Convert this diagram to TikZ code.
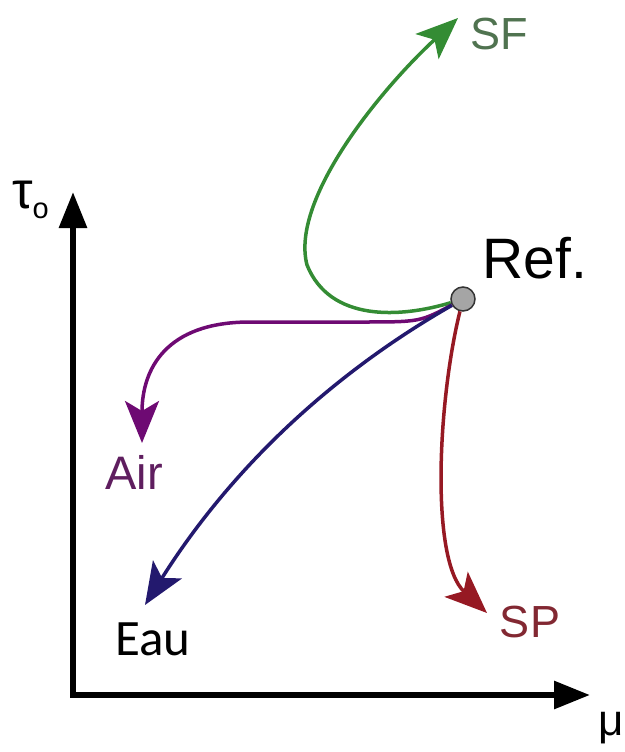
\documentclass[tikz,border=0pt]{standalone}
\usepackage{fontspec}
\setmainfont{Liberation Sans}
\newfontfamily\eaufont{Carlito}
\usetikzlibrary{arrows.meta}
\definecolor{sfGreen}{RGB}{52,140,52}
\definecolor{sfText}{RGB}{80,115,80}
\definecolor{airPurple}{RGB}{110,10,115}
\definecolor{airText}{RGB}{95,30,95}
\definecolor{eauBlue}{RGB}{35,25,110}
\definecolor{spRed}{RGB}{150,25,35}
\definecolor{spText}{RGB}{130,40,50}
\definecolor{refGray}{RGB}{165,165,165}
\newcommand{\fsz}[1]{\fontsize{#1}{#1}\selectfont}

\begin{document}
\begin{tikzpicture}[x=1pt, y=-1pt,
  lbl/.style={inner sep=0pt},
  axis/.style={line width=6pt, line join=miter,
               arrows={Triangle[length=36pt,width=27pt]-Triangle[length=36pt,width=27pt]}},
  trend/.style={line width=3.5pt, -{Stealth[length=42pt,width=34pt,inset=10pt]}},
]
\useasboundingbox (0,0) rectangle (624,752);

% axes
\coordinate (origin) at (73,695);
\coordinate (ytip) at (73,192);
\coordinate (xtip) at (590,695);
\draw[axis] (ytip) -- (origin) -- (xtip);
\node[lbl, anchor=base west, font=\fsz{52}] (tau) at (12,208)
  {τ\raisebox{-10pt}{\fsz{29}o}};
\node[lbl, anchor=base west, font=\fsz{44}] (mu) at (598,735) {μ};

% reference point
\node[circle, fill=refGray, draw=gray!40!black, line width=1.5pt,
      minimum size=24pt, inner sep=0pt] (ref) at (463,299) {};
\node[lbl, font=\fsz{57}] (reflbl) at (535,258) {Ref.};

\coordinate (sftip) at (458,18);
\coordinate (airtip) at (142,443);
\coordinate (eautip) at (145,605);
\coordinate (sptip) at (487,613);

\draw[trend, sfGreen] (ref) .. controls (400,318) and (330,322) .. (307,265)
  .. controls (290,200) and (380,90) .. (sftip);
\draw[trend, airPurple] (ref) .. controls (420,322) .. (360,322) -- (250,322)
  .. controls (165,322) and (142,370) .. (airtip);
\draw[trend, eauBlue] (ref) .. controls (330,375) and (230,470) .. (eautip);
\draw[trend, spRed] (ref) .. controls (438,400) and (430,560) .. (sptip);

\node[lbl, font=\fsz{45}, text=sfText] (sf) at (499,34) {SF};
\node[lbl, font=\fsz{47}, text=airText] (air) at (134,472) {Air};
\node[lbl, font=\eaufont\fsz{51}] (eau) at (153,639) {Eau};
\node[lbl, font=\fsz{45}, text=spText] (sp) at (530,622) {SP};
\end{tikzpicture}
\end{document}
